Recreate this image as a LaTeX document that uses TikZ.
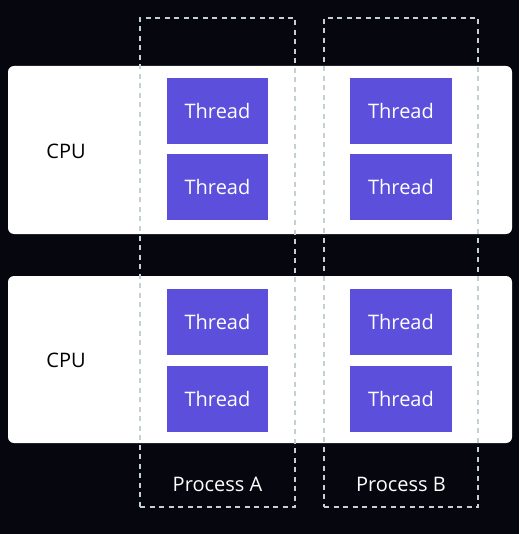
\documentclass[tikz,border=0pt]{standalone}
\usepackage{fontspec}
\setmainfont{Open Sans}
\usetikzlibrary{positioning}
\definecolor{bgdark}{HTML}{06060F}
\definecolor{threadblue}{HTML}{5B4FDC}
\definecolor{dashgray}{HTML}{C4D0D4}

\begin{document}
\begin{tikzpicture}[x=1pt, y=-1pt,
    cpubox/.style = {draw=none, fill=white, rounded corners=6pt, minimum width=504pt, minimum height=168pt},
    thread/.style = {fill=threadblue, text=white, font=\fontsize{20}{23}\selectfont, minimum width=101pt, minimum height=66pt, inner sep=0pt},
    procbox/.style = {draw=dashgray, line width=2.5pt, dash pattern=on 5pt off 4.5pt, minimum width=155pt, minimum height=489pt, inner sep=0pt},
    lbl/.style = {font=\fontsize{20}{23}\selectfont}]

  % background and bounding box
  \fill[bgdark] (0,0) rectangle (519,534);
  \useasboundingbox (0,0) rectangle (519,534);

  % CPU rows
  \node[cpubox] (cpu1) at (260,150) {};
  \node[cpubox, minimum height=167pt] (cpu2) at (260,359.5) {};
  \node[lbl] (cpu1lbl) at (66,151) {CPU};
  \node[lbl] (cpu2lbl) at (66,360) {CPU};

  % threads of process A
  \node[thread] (a1) at (217.5,111) {Thread};
  \node[thread] (a2) at (217.5,187) {Thread};
  \node[thread] (a3) at (217.5,322) {Thread};
  \node[thread] (a4) at (217.5,399) {Thread};

  % threads of process B
  \node[thread, minimum width=102pt] (b1) at (401,111) {Thread};
  \node[thread, minimum width=102pt] (b2) at (401,187) {Thread};
  \node[thread, minimum width=102pt] (b3) at (401,322) {Thread};
  \node[thread, minimum width=102pt] (b4) at (401,399) {Thread};

  % processes drawn on top
  \node[procbox] (procA) at (217.5,262.5) {};
  \node[procbox, minimum width=154pt] (procB) at (401,262.5) {};
  \node[lbl, text=white] (procAlbl) at (217.5,484) {Process A};
  \node[lbl, text=white] (procBlbl) at (401,484) {Process B};
\end{tikzpicture}
\end{document}
